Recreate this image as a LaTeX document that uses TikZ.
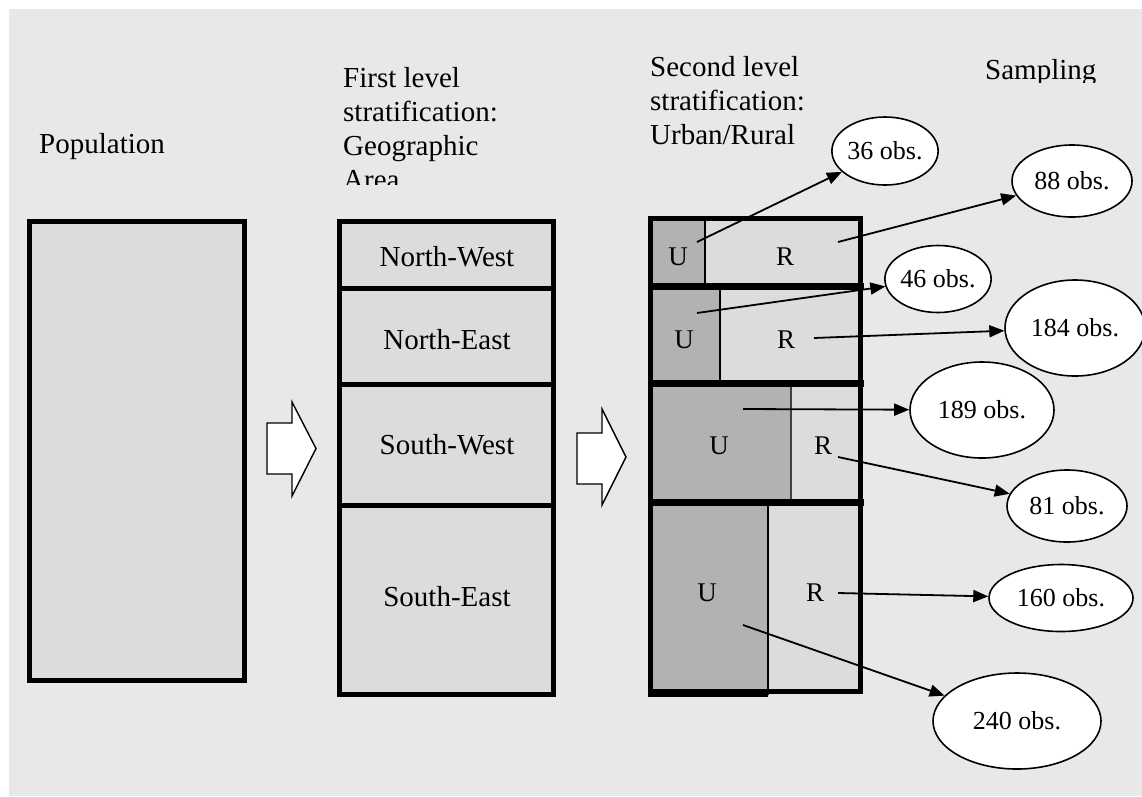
\documentclass[tikz,border=0pt]{standalone}
\usepackage{fontspec}
\setmainfont{Liberation Serif}
\usetikzlibrary{shapes.geometric,arrows.meta}
\definecolor{paper}{HTML}{E8E8E8}
\definecolor{cellfill}{HTML}{DCDCDC}
\definecolor{urbanfill}{HTML}{B2B2B2}

\begin{document}
\begin{tikzpicture}[x=1pt,y=-1pt,
  hdr/.style={anchor=base west, inner sep=0, font=\fontsize{29}{34}\selectfont},
  region/.style={inner sep=0, font=\fontsize{29}{34}\selectfont},
  cellname/.style={inner sep=0, font=\fontsize{27}{32}\selectfont},
  obs/.style={ellipse, draw, fill=white, line width=1.6pt, inner sep=0,
              font=\fontsize{26}{30}\selectfont},
  conn/.style={line width=1.8pt, -{Triangle[length=15pt,width=12pt]}},
  blockarrow/.style={draw, fill=white, line width=1.4pt, line join=miter},
  frame/.style={line width=4.6pt},
  rowline/.style={line width=7pt},
  splitline/.style={line width=1.8pt},
]
\useasboundingbox (0,0) rectangle (1142,796);
\fill[white] (0,0) rectangle (1142,796);
\fill[paper] (9,9) rectangle (1142,796);

% ---- column headings ----
\node[hdr] (hpop) at (39,153) {Population};
\begin{scope}
  \clip (330,40) rectangle (640,184);
  \node[hdr] (h1a) at (343,87)  {First level};
  \node[hdr] (h1b) at (343,121) {stratification:};
  \node[hdr] (h1c) at (343,155) {Geographic};
  \node[hdr] (h1d) at (343,189) {Area};
\end{scope}
\node[hdr] (h2a) at (650,76)  {Second level};
\node[hdr] (h2b) at (650,110) {stratification:};
\node[hdr] (h2c) at (650,144) {Urban/Rural};
\begin{scope}
  \clip (960,20) rectangle (1130,82);
  \node[hdr] (h3) at (985,79) {Sampling};
\end{scope}

% ---- population ----
\draw[frame, fill=cellfill] (29.3,221.3) rectangle (244.7,680.7);

% ---- block arrows ----
\draw[blockarrow] (267,423) -- (292,423) -- (292,402) -- (316,448.5)
  -- (292,496) -- (292,474) -- (267,474) -- cycle;
\draw[blockarrow] (577,433) -- (602,433) -- (602,409) -- (626,457)
  -- (602,505) -- (602,484) -- (577,484) -- cycle;

% ---- geographic areas ----
\fill[cellfill] (339.3,221.3) rectangle (553.7,694.7);
\draw[line width=5pt] (337,288) -- (556,288);
\draw[line width=5pt] (337,384) -- (556,384);
\draw[line width=5pt] (337,505) -- (556,505);
\draw[frame] (339.3,221.3) rectangle (553.7,694.7);
\node[region] (nw) at (447,257) {North-West};
\node[region] (ne) at (447,340) {North-East};
\node[region] (sw) at (447,445) {South-West};
\node[region] (se) at (447,597) {South-East};

% ---- urban / rural split ----
\fill[cellfill]  (650.5,218.5) rectangle (860.5,691);
\fill[urbanfill] (650.5,218.5) rectangle (705,286);
\fill[urbanfill] (650.5,286)   rectangle (720,383);
\fill[urbanfill] (650.5,383)   rectangle (791,502);
\fill[urbanfill] (650.5,502)   rectangle (768,691);
\draw[splitline] (705,218.5) -- (705,286);
\draw[splitline] (720,286) -- (720,383);
\draw[splitline, black!75] (791,383) -- (791,502);
\draw[splitline] (768,502) -- (768,695);
\draw[rowline] (648,286.5) -- (864,286.5);
\draw[rowline] (648,383)   -- (864,383);
\draw[rowline] (648,502.5) -- (864,502.5);
\draw[line width=5pt] (650.5,218.5) rectangle (860.5,691);
\draw[line width=4pt] (648,695) -- (768,695);

\node[cellname] (u1) at (678,257) {U};
\node[cellname] (r1) at (785,257) {R};
\node[cellname] (u2) at (684,340) {U};
\node[cellname] (r2) at (786,340) {R};
\node[cellname] (u3) at (719,446) {U};
\node[cellname] (r3) at (823,446) {R};
\node[cellname] (u4) at (707,593) {U};
\node[cellname] (r4) at (815,593) {R};

% ---- samples ----
\node[obs, minimum width=96pt,  minimum height=68pt] (e36)  at (885,151)  {36 obs.};
\node[obs, minimum width=120pt, minimum height=72pt] (e88)  at (1072,181) {88 obs.};
\node[obs, minimum width=96pt,  minimum height=67pt] (e46)  at (938,279)  {46 obs.};
\node[obs, minimum width=140pt, minimum height=96pt] (e184) at (1075,328) {184 obs.};
\node[obs, minimum width=144pt, minimum height=96pt] (e189) at (982,410)  {189 obs.};
\node[obs, minimum width=120pt, minimum height=72pt] (e81)  at (1067,506) {81 obs.};
\node[obs, minimum width=144pt, minimum height=67pt] (e160) at (1061,598) {160 obs.};
\node[obs, minimum width=168pt, minimum height=96pt] (e240) at (1017,721) {240 obs.};

% ---- sampling connectors ----
\coordinate (s36)  at (697,242);
\coordinate (s88)  at (838,242);
\coordinate (s46)  at (697,313);
\coordinate (s184) at (814,338);
\coordinate (s189) at (743,409);
\coordinate (s81)  at (838,457);
\coordinate (s160) at (838,593);
\coordinate (s240) at (743,625);

\draw[conn] (s36)  -- (e36);
\draw[conn] (s88)  -- (e88);
\draw[conn] (s46)  -- (e46);
\draw[conn] (s184) -- (e184);
\draw[conn] (s189) -- (e189);
\draw[conn] (s81)  -- (e81);
\draw[conn] (s160) -- (e160);
\draw[conn] (s240) -- (e240);
\end{tikzpicture}
\end{document}
